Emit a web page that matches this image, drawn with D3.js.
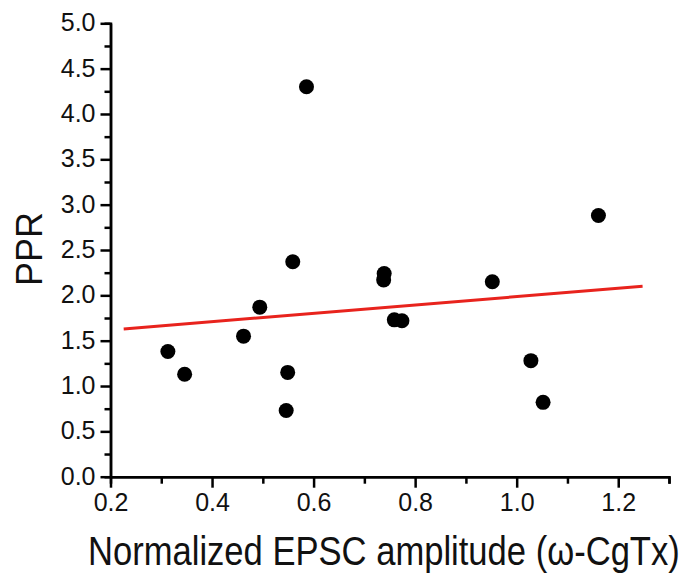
<!DOCTYPE html>
<html>
<head>
<meta charset="utf-8">
<script src="https://cdn.jsdelivr.net/npm/d3@7"></script>
<style>
  body { margin: 0; background: #fff; }
  svg { display: block; font-family: "Liberation Sans", Arial, sans-serif; }
  .axis path, .axis line { stroke: #000; stroke-width: 2.5; }
  .axis text { font-size: 25px; fill: #111; }
</style>
</head>
<body>
<svg id="chart" width="687" height="575">
  <g id="axes"></g>
  <g id="fit"></g>
  <g id="circles"></g>
</svg>
<script>
// normalized EPSC amplitude vs paired-pulse ratio
let amplitude = [0.586, 0.559, 0.739, 0.738, 0.494, 0.759, 0.774, 0.462,
                 0.313, 0.346, 0.549, 0.546, 1.161, 0.952, 1.028, 1.052],
  ppr = [4.30, 2.37, 2.24, 2.17, 1.87, 1.73, 1.72, 1.55,
         1.38, 1.13, 1.15, 0.73, 2.88, 2.15, 1.28, 0.82],
  fit_x = [0.226, 1.248],
  fit_y = [1.63, 2.10],
  x_major = [0.2, 0.4, 0.6, 0.8, 1.0, 1.2],
  x_minor = [0.3, 0.5, 0.7, 0.9, 1.1, 1.3],
  y_major = [0, 0.5, 1, 1.5, 2, 2.5, 3, 3.5, 4, 4.5, 5],
  y_minor = [0.25, 0.75, 1.25, 1.75, 2.25, 2.75, 3.25, 3.75, 4.25, 4.75];

let width = 687,
  height = 575,
  margins = {left: 110.5, right: 18, top: 23.3, bottom: 98.3};

function make_scales() {
  return {
    x: d3.scaleLinear()
      .domain([0.2, 1.3])
      .range([margins.left, width - margins.right]),
    y: d3.scaleLinear()
      .domain([0, 5])
      .range([height - margins.bottom, margins.top])
  }
}

function annotations(scales) {
  let axes = d3.select("#axes"),
    fmt = d3.format(".1f");

  axes.append("g").attr("class", "axis")
    .attr("transform", `translate(0, ${height - margins.bottom})`)
    .call(d3.axisBottom(scales.x).tickValues(x_minor).tickSize(7).tickFormat(""))
  let x_axis = axes.append("g").attr("class", "axis")
    .attr("transform", `translate(0, ${height - margins.bottom})`)
    .call(d3.axisBottom(scales.x).tickValues(x_major).tickSize(11)
      .tickSizeOuter(0).tickPadding(6).tickFormat(fmt))

  axes.append("g").attr("class", "axis")
    .attr("transform", `translate(${margins.left}, 0)`)
    .call(d3.axisLeft(scales.y).tickValues(y_minor).tickSize(6).tickFormat(""))
  let y_axis = axes.append("g").attr("class", "axis")
    .attr("transform", `translate(${margins.left}, 0)`)
    .call(d3.axisLeft(scales.y).tickValues(y_major).tickSize(10)
      .tickSizeOuter(0).tickPadding(5).tickFormat(fmt))

  y_axis.selectAll("text").attr("dy", "0.3em")
  x_axis.selectAll("text").attr("dy", "0.71em")

  // the original title is set in a narrow face, so squeeze it to fit
  let x_title = axes.append("text")
    .text("Normalized EPSC amplitude (ω-CgTx)")
    .style("font-size", "40px")
    .style("fill", "#111")
  let squeeze = 592 / x_title.node().getComputedTextLength()
  x_title.attr("transform", `translate(88, 565)scale(${squeeze}, 1)`)

  axes.append("text")
    .text("PPR")
    .attr("transform", `translate(42, 249)rotate(-90)`)
    .attr("text-anchor", "middle")
    .style("font-size", "36px")
    .style("fill", "#111")
}

function visualize() {
  let scales = make_scales();
  annotations(scales);

  let line = d3.line()
    .x(d => scales.x(d[0]))
    .y(d => scales.y(d[1]));

  d3.select("#fit").append("path")
    .datum(d3.zip(fit_x, fit_y))
    .attr("d", line)
    .attr("fill", "none")
    .attr("stroke", "#e8231d")
    .attr("stroke-width", 3)

  d3.select("#circles")
    .selectAll("circle")
    .data(d3.zip(amplitude, ppr)).enter()
    .append("circle")
    .attr("cx", d => scales.x(d[0]))
    .attr("cy", d => scales.y(d[1]))
    .attr("r", 7.5)
    .attr("fill", "#000")
}

visualize()
</script>
</body>
</html>
